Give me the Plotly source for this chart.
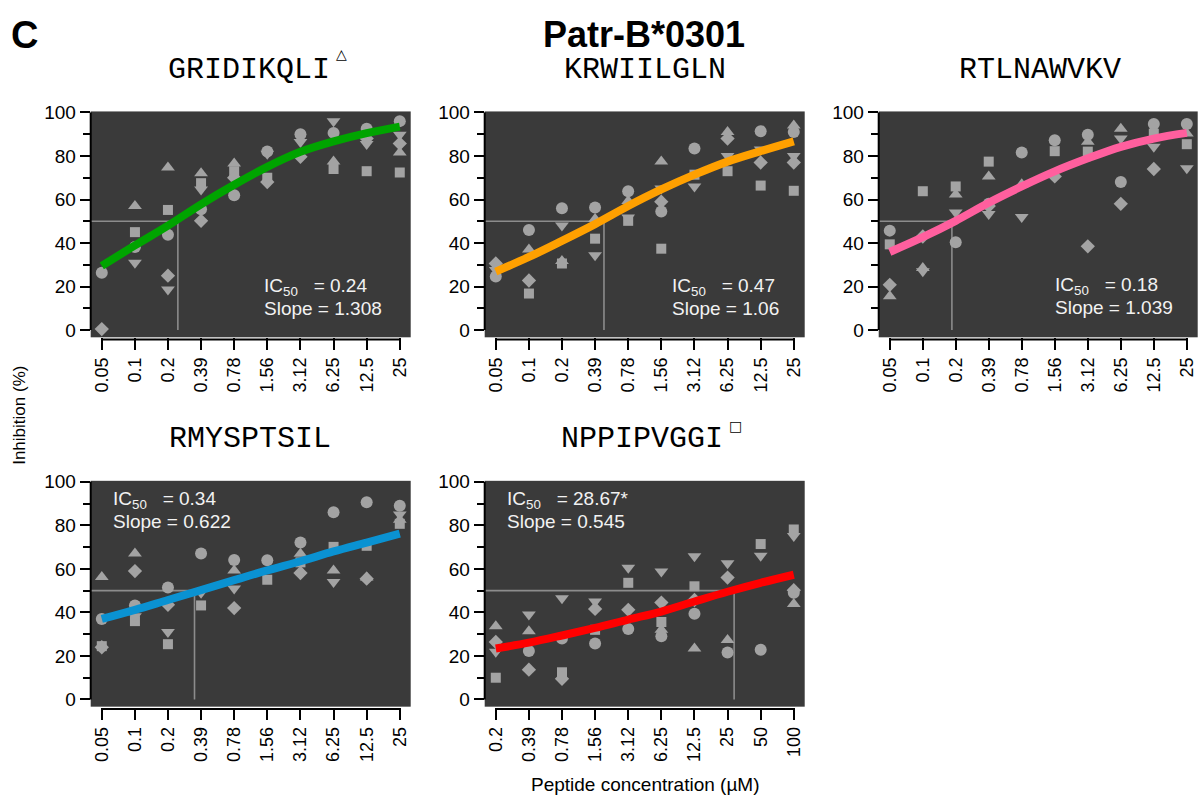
import math
import plotly.graph_objects as go

# ---------------- data ----------------
conc_low = [0.0488, 0.0977, 0.195, 0.39, 0.78, 1.56, 3.125, 6.25, 12.5, 25]
conc_high = [0.195, 0.39, 0.78, 1.56, 3.125, 6.25, 12.5, 25, 50, 100]
labels_low = ["0.05", "0.1", "0.2", "0.39", "0.78", "1.56", "3.12", "6.25", "12.5", "25"]
labels_high = ["0.2", "0.39", "0.78", "1.56", "3.12", "6.25", "12.5", "25", "50", "100"]

peptides = ["GRIDIKQLI", "KRWIILGLN", "RTLNAWVKV", "RMYSPTSIL", "NPPIPVGGI"]
ic50 = [0.24, 0.47, 0.18, 0.34, 28.67]
ic50_text = ["0.24", "0.47", "0.18", "0.34", "28.67*"]
slope_text = ["1.308", "1.06", "1.039", "0.622", "0.545"]
curve_colors = ["#00a400", "#ffa000", "#ff5f9e", "#0a92d2", "#ff0000"]

# replicate measurements (None = no visible point)
p1_circle = [26.4, 38.2, 43.8, 55.5, 62, 82, 90, 90.6, 92.5, 96]
p1_square = [None, 45, 55.2, 67.5, 73, 70, None, 74, 73, 72.4]
p1_tri_up = [None, 57, 74.7, 72, 76.5, None, None, 77.5, None, 81.6]
p1_tri_down = [None, 31, 18.6, 64.6, None, 81, 86.4, 96, 85.5, 89.7]
p1_diamond = [0.5, None, 25, 50.2, 70, 68, 79.6, None, 88, 85.7]

p2_circle = [24.6, 46, 56, 56.3, 63.8, 54.5, 83.4, None, 91.4, 91]
p2_square = [None, 16.8, 30.6, 42, 50.2, 37.4, 71.4, 73, 66.4, 64]
p2_tri_up = [None, 37, 31.8, 51, 59.3, 77.4, None, 91, None, 94]
p2_tri_down = [27.6, None, 48, 34.4, 51.7, 65, 66, 80, 83, 80]
p2_diamond = [30.6, 22.8, None, None, None, 59, None, 88, 77, 77]

p3_circle = [45.7, None, 40.4, 58, 81.6, 87.2, 89.7, 68, 94.7, 94.7]
p3_square = [39.4, 63.8, 66, 77.4, None, 82.2, 82, None, 90.2, 85.4]
p3_tri_up = [15.6, 28.5, 62.3, 70.6, 67, None, 86.5, 92.5, None, 90.3]
p3_tri_down = [None, 27, 54, 53.3, 52, None, None, 88, 84.2, 74.4]
p3_diamond = [20.8, 43, None, 57, None, 70.6, 38.5, 58, 74, None]

p4_circle = [37, 43.2, 51.4, 67.1, 64.1, 64, 72.1, 86, 90.6, 89]
p4_square = [24.5, 36, 25.4, 43.2, None, 55, 63, 70.1, 70.6, 80.7]
p4_tri_up = [56.3, 67.1, None, None, 59.3, None, 67, 59.3, 56, 82.6]
p4_tri_down = [None, 38.2, 31, 49, 51, None, None, 54, None, 85]
p4_diamond = [24, 59, 43.5, None, 42, None, 58.1, None, 55.5, None]

p5_circle = [None, 22.3, 28, 25.7, 32.4, 29.1, 39.4, 21.6, 22.8, 49]
p5_square = [10, None, 12.5, 32, 53.6, 35.6, 52, None, 71.4, 78.1]
p5_tri_up = [33.6, 31.4, None, None, None, 32, 23.4, 27.3, None, 43.9]
p5_tri_down = [21.9, 39, 46.5, 45, 60.5, 58.8, 65.8, 62.6, 66, 75.1]
p5_diamond = [26.4, 13.7, 9.5, 41.6, 41.2, 44.5, 45.7, 56, None, 50.2]

# fitted curves read at each concentration
p1_fit = [29.5, 38.9, 48, 57.8, 66.8, 75, 81.9, 86.7, 90.5, 93.5]
p2_fit = [26.9, 33.6, 41, 48.7, 57, 64.6, 71.4, 77.4, 82.2, 86.7]
p3_fit = [35.9, 42.7, 50.2, 58.5, 66, 72.9, 78.9, 84.2, 88, 90.6]
p4_fit = [37, 41.2, 45.7, 50.2, 54.8, 59.3, 63.5, 68, 72.1, 76.2]
p5_fit = [23.4, 26.1, 29.4, 32.9, 36.7, 40.4, 45, 49.5, 53.6, 57.3]

panels = [
    (conc_low, labels_low, [p1_circle, p1_square, p1_tri_up, p1_tri_down, p1_diamond], p1_fit),
    (conc_low, labels_low, [p2_circle, p2_square, p2_tri_up, p2_tri_down, p2_diamond], p2_fit),
    (conc_low, labels_low, [p3_circle, p3_square, p3_tri_up, p3_tri_down, p3_diamond], p3_fit),
    (conc_low, labels_low, [p4_circle, p4_square, p4_tri_up, p4_tri_down, p4_diamond], p4_fit),
    (conc_high, labels_high, [p5_circle, p5_square, p5_tri_up, p5_tri_down, p5_diamond], p5_fit),
]

# ---------------- style / layout ----------------
W, H = 1201, 800
symbols = ["circle", "square", "triangle-up", "triangle-down", "diamond"]
sym_sizes = [12, 10, 12, 12, 11]
PT_COLOR = "#a3a3a3"
BG = "#3a3a3a"
FONT = "Liberation Sans, Arial, Helvetica, sans-serif"
MONO = "Liberation Mono, Courier New, monospace"

col_px = [(90.7, 410.7), (484.7, 804.7), (878.7, 1197.7)]
row_px = [(104, 333.3), (479, 708.3)]
cells = [(0, 0), (0, 1), (0, 2), (1, 0), (1, 1)]
YR = [-3.3, 100.45]
PAD_L, PAD_R = 0.335, 0.33

ann_pos = [(0.535, 0.222, 0.127), (0.578, 0.222, 0.127), (0.546, 0.226, 0.131),
           (0.062, 0.915, 0.82), (0.064, 0.915, 0.82)]
title_px = [(249, 62), (644.5, 62), (1040, 62), (250, 437), (641.5, 437)]
sup_px = [(341, 46, "\u25b3"), None, None, None, (735, 423, "\u25a1")]

fig = go.Figure()
layout = dict(width=W, height=H, margin=dict(l=0, r=0, t=0, b=0),
              paper_bgcolor="white", plot_bgcolor=BG, showlegend=False,
              font=dict(family=FONT, color="black"))
shapes, annotations = [], []

for k, (conc, labels, reps, fit) in enumerate(panels):
    r, c = cells[k]
    n = "" if k == 0 else str(k + 1)
    xa, ya = "x" + n, "y" + n
    lo = math.log10(conc[0]) - PAD_L * math.log10(2)
    hi = math.log10(conc[-1]) + PAD_R * math.log10(2)
    x0p, x1p = col_px[c]
    y0p, y1p = row_px[r]
    layout["xaxis" + n] = dict(
        domain=[x0p / W, x1p / W], anchor=ya, type="log", range=[lo, hi],
        tickmode="array", tickvals=conc, ticktext=labels, tickangle=-90,
        ticks="outside", ticklen=12, tickwidth=2, tickcolor="black",
        showgrid=False, zeroline=False, showline=False,
        tickfont=dict(size=18, family=FONT, color="black"))
    layout["yaxis" + n] = dict(
        domain=[1 - y1p / H, 1 - y0p / H], anchor=xa, range=YR,
        tickmode="array", tickvals=[0, 20, 40, 60, 80, 100],
        ticks="outside", ticklen=10, tickwidth=2, tickcolor="black",
        minor=dict(tickmode="array", tickvals=[10, 30, 50, 70, 90], ticks="outside",
                   ticklen=7, tickwidth=2, tickcolor="black", showgrid=False),
        showgrid=False, zeroline=False, showline=False,
        tickfont=dict(size=19, family=FONT, color="black"))

    # IC50 guide lines
    fig.add_trace(go.Scatter(x=[10 ** lo, ic50[k], ic50[k]], y=[50, 50, 0], mode="lines",
                             line=dict(color="#8c8c8c", width=1.6), xaxis=xa, yaxis=ya,
                             hoverinfo="skip", cliponaxis=True))
    # replicate points
    for vals, sym, sz in zip(reps, symbols, sym_sizes):
        fig.add_trace(go.Scatter(x=conc, y=vals, mode="markers", xaxis=xa, yaxis=ya,
                                 marker=dict(symbol=sym, size=sz, color=PT_COLOR,
                                             line=dict(width=0)), cliponaxis=False))
    # fitted curve
    fig.add_trace(go.Scatter(x=conc, y=fit, mode="lines", xaxis=xa, yaxis=ya,
                             line=dict(color=curve_colors[k], width=8, shape="spline",
                                       smoothing=1.0)))

    # axis lines (only over the tick span)
    span = hi - lo
    fx0 = (math.log10(conc[0]) - lo) / span
    fx1 = (math.log10(conc[-1]) - lo) / span
    shapes.append(dict(type="line", xref=xa + " domain", yref=ya, x0=0, x1=0, y0=0, y1=100,
                       line=dict(color="black", width=2)))
    shapes.append(dict(type="line", xref=xa + " domain", yref=ya + " domain",
                       x0=fx0, x1=fx1, y0=-0.01, y1=-0.01, line=dict(color="black", width=2)))

    # IC50 / slope text
    ax_, ay1, ay2 = ann_pos[k]
    annotations.append(dict(xref=xa + " domain", yref=ya + " domain", x=ax_, y=ay1,
                            xanchor="left", yanchor="middle", showarrow=False,
                            text="IC<sub>50</sub>\u00a0\u00a0\u00a0= " + ic50_text[k],
                            font=dict(size=19, color="#f2f2f2", family=FONT)))
    annotations.append(dict(xref=xa + " domain", yref=ya + " domain", x=ax_, y=ay2,
                            xanchor="left", yanchor="middle", showarrow=False,
                            text="Slope = " + slope_text[k],
                            font=dict(size=19, color="#f2f2f2", family=FONT)))
    # panel title
    tx, ty = title_px[k]
    annotations.append(dict(xref="paper", yref="paper", x=tx / W, y=1 - ty / H,
                            xanchor="center", yanchor="middle", showarrow=False,
                            text=peptides[k], font=dict(size=30, family=MONO, color="black")))
    if sup_px[k] is not None:
        sx, sy, st = sup_px[k]
        annotations.append(dict(xref="paper", yref="paper", x=sx / W, y=1 - sy / H,
                                xanchor="center", yanchor="middle", showarrow=False,
                                text=st, font=dict(size=14, family="DejaVu Sans", color="black")))

annotations += [
    dict(xref="paper", yref="paper", x=9 / W, y=1 - 26 / H, xanchor="left", yanchor="middle",
         showarrow=False, text="<b>C</b>", font=dict(size=38, family=FONT, color="black")),
    dict(xref="paper", yref="paper", x=644 / W, y=1 - 26 / H, xanchor="center", yanchor="middle",
         showarrow=False, text="<b>Patr-B*0301</b>", font=dict(size=36, family=FONT, color="black")),
    dict(xref="paper", yref="paper", x=20 / W, y=1 - 413 / H, xanchor="center", yanchor="middle",
         showarrow=False, textangle=-90, text="Inhibition (%)",
         font=dict(size=17, family=FONT, color="black")),
    dict(xref="paper", yref="paper", x=645 / W, y=1 - 787 / H, xanchor="center", yanchor="middle",
         showarrow=False, text="Peptide concentration (\u00b5M)",
         font=dict(size=19, family=FONT, color="black")),
]

layout["shapes"] = shapes
layout["annotations"] = annotations
fig.update_layout(**layout)
fig.write_html("out.html")
